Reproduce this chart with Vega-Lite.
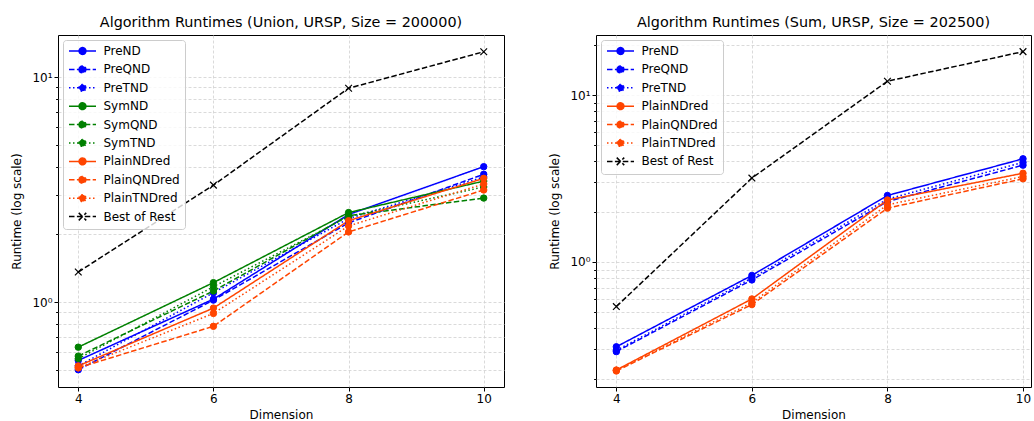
{
  "$schema": "https://vega.github.io/schema/vega-lite/v6.json",
  "padding": {"left": 10, "top": 14, "right": 0, "bottom": 0},
  "config": {
    "font": "DejaVu Sans",
    "view": {"stroke": "#000000", "strokeWidth": 1},
    "title": {"fontSize": 14.4, "fontWeight": "normal", "color": "#000000", "offset": 5, "font": "DejaVu Sans"},
    "axis": {
      "labelFont": "DejaVu Sans", "labelFontSize": 12, "labelColor": "#000000",
      "titleFont": "DejaVu Sans", "titleFontSize": 12, "titleFontWeight": "normal", "titleColor": "#000000",
      "domain": false, "tickColor": "#000000", "tickSize": 4, "labelPadding": 2,
      "grid": true, "gridColor": "#d0d0d0", "gridDash": [3, 2], "gridWidth": 0.8
    },
    "axisY": {"titlePadding": 8},
    "axisX": {"titlePadding": 5},
    "legend": {
      "orient": "top-left", "offset": 5, "padding": 5, "rowPadding": 4.4, "labelOffset": 15, "symbolOffset": 8.5,
      "symbolSize": 100, "labelFontSize": 12, "labelFont": "DejaVu Sans", "labelColor": "#000000",
      "strokeColor": "#cccccc", "fillColor": "rgba(255,255,255,0.8)", "cornerRadius": 3,
      "symbolStrokeWidth": 1.5, "symbolOpacity": 1, "labelLimit": 200
    }
  },
  "datasets": {
    "union": [
      {"series": "PreND", "dim": 4, "runtime": 0.55},
      {"series": "PreND", "dim": 6, "runtime": 1.03},
      {"series": "PreND", "dim": 8, "runtime": 2.45},
      {"series": "PreND", "dim": 10, "runtime": 4.0},
      {"series": "PreQND", "dim": 4, "runtime": 0.5},
      {"series": "PreQND", "dim": 6, "runtime": 1.02},
      {"series": "PreQND", "dim": 8, "runtime": 2.25},
      {"series": "PreQND", "dim": 10, "runtime": 3.7},
      {"series": "PreTND", "dim": 4, "runtime": 0.52},
      {"series": "PreTND", "dim": 6, "runtime": 1.1},
      {"series": "PreTND", "dim": 8, "runtime": 2.35},
      {"series": "PreTND", "dim": 10, "runtime": 3.6},
      {"series": "SymND", "dim": 4, "runtime": 0.63},
      {"series": "SymND", "dim": 6, "runtime": 1.22},
      {"series": "SymND", "dim": 8, "runtime": 2.5},
      {"series": "SymND", "dim": 10, "runtime": 3.45},
      {"series": "SymQND", "dim": 4, "runtime": 0.575},
      {"series": "SymQND", "dim": 6, "runtime": 1.12},
      {"series": "SymQND", "dim": 8, "runtime": 2.42},
      {"series": "SymQND", "dim": 10, "runtime": 2.9},
      {"series": "SymTND", "dim": 4, "runtime": 0.56},
      {"series": "SymTND", "dim": 6, "runtime": 1.17},
      {"series": "SymTND", "dim": 8, "runtime": 2.4},
      {"series": "SymTND", "dim": 10, "runtime": 3.25},
      {"series": "PlainNDred", "dim": 4, "runtime": 0.52},
      {"series": "PlainNDred", "dim": 6, "runtime": 0.94},
      {"series": "PlainNDred", "dim": 8, "runtime": 2.3},
      {"series": "PlainNDred", "dim": 10, "runtime": 3.55},
      {"series": "PlainQNDred", "dim": 4, "runtime": 0.51},
      {"series": "PlainQNDred", "dim": 6, "runtime": 0.78},
      {"series": "PlainQNDred", "dim": 8, "runtime": 2.05},
      {"series": "PlainQNDred", "dim": 10, "runtime": 3.15},
      {"series": "PlainTNDred", "dim": 4, "runtime": 0.51},
      {"series": "PlainTNDred", "dim": 6, "runtime": 0.89},
      {"series": "PlainTNDred", "dim": 8, "runtime": 2.18},
      {"series": "PlainTNDred", "dim": 10, "runtime": 3.35},
      {"series": "Best of Rest", "dim": 4, "runtime": 1.36},
      {"series": "Best of Rest", "dim": 6, "runtime": 3.31},
      {"series": "Best of Rest", "dim": 8, "runtime": 8.93},
      {"series": "Best of Rest", "dim": 10, "runtime": 12.97}
    ],
    "sum": [
      {"series": "PreND", "dim": 4, "runtime": 0.31},
      {"series": "PreND", "dim": 6, "runtime": 0.83},
      {"series": "PreND", "dim": 8, "runtime": 2.5},
      {"series": "PreND", "dim": 10, "runtime": 4.15},
      {"series": "PreQND", "dim": 4, "runtime": 0.29},
      {"series": "PreQND", "dim": 6, "runtime": 0.78},
      {"series": "PreQND", "dim": 8, "runtime": 2.3},
      {"series": "PreQND", "dim": 10, "runtime": 3.8},
      {"series": "PreTND", "dim": 4, "runtime": 0.295},
      {"series": "PreTND", "dim": 6, "runtime": 0.8},
      {"series": "PreTND", "dim": 8, "runtime": 2.38},
      {"series": "PreTND", "dim": 10, "runtime": 3.95},
      {"series": "PlainNDred", "dim": 4, "runtime": 0.225},
      {"series": "PlainNDred", "dim": 6, "runtime": 0.6},
      {"series": "PlainNDred", "dim": 8, "runtime": 2.35},
      {"series": "PlainNDred", "dim": 10, "runtime": 3.4},
      {"series": "PlainQNDred", "dim": 4, "runtime": 0.222},
      {"series": "PlainQNDred", "dim": 6, "runtime": 0.555},
      {"series": "PlainQNDred", "dim": 8, "runtime": 2.1},
      {"series": "PlainQNDred", "dim": 10, "runtime": 3.15},
      {"series": "PlainTNDred", "dim": 4, "runtime": 0.224},
      {"series": "PlainTNDred", "dim": 6, "runtime": 0.57},
      {"series": "PlainTNDred", "dim": 8, "runtime": 2.2},
      {"series": "PlainTNDred", "dim": 10, "runtime": 3.25},
      {"series": "Best of Rest", "dim": 4, "runtime": 0.54},
      {"series": "Best of Rest", "dim": 6, "runtime": 3.18},
      {"series": "Best of Rest", "dim": 8, "runtime": 12.1},
      {"series": "Best of Rest", "dim": 10, "runtime": 18.2}
    ]
  },
  "spacing": 43,
  "resolve": {
    "scale": {"color": "independent", "strokeDash": "independent", "stroke": "independent", "x": "independent", "y": "independent"},
    "legend": {"color": "independent"}
  },
  "hconcat": [
    {
      "title": "Algorithm Runtimes (Union, URSP, Size = 200000)",
      "width": 446,
      "height": 352,
      "data": {"name": "union"},
      "encoding": {
        "x": {"field": "dim", "type": "quantitative", "scale": {"domain": [3.7, 10.3], "nice": false, "zero": false},
              "axis": {"values": [4, 6, 8, 10], "format": "d", "title": "Dimension"}},
        "y": {"field": "runtime", "type": "quantitative", "scale": {"type": "log", "domain": [0.419, 15.4], "nice": false},
              "axis": {"values": [0.5, 0.6, 0.7, 0.8, 0.9, 1, 2, 3, 4, 5, 6, 7, 8, 9, 10],
                       "labelExpr": "datum.value == 1 ? '10⁰' : datum.value == 10 ? '10¹' : ''",
                       "tickSize": {"condition": {"test": "datum.value == 1 || datum.value == 10", "value": 4}, "value": 2.4},
                       "title": "Runtime (log scale)"}},
        "color": {"field": "series", "type": "nominal",
          "scale": {"domain": ["PreND", "PreQND", "PreTND", "SymND", "SymQND", "SymTND", "PlainNDred", "PlainQNDred", "PlainTNDred", "Best of Rest"],
                    "range": ["blue", "blue", "blue", "green", "green", "green", "#ff4500", "#ff4500", "#ff4500", "black"]},
          "legend": {"title": null,
            "encode": {"symbols": {"update": {
              "shape": {"signal": "datum.value === 'Best of Rest' ? 'M-2.7,0L2.7,0M-0.75,-0.75L0.75,0.75M-0.75,0.75L0.75,-0.75' : 'M-2.7,0L2.7,0M-0.68,0A0.68,0.68 0 1 1 0.68,0A0.68,0.68 0 1 1 -0.68,0Z'"},
              "fill": {"signal": "datum.value === 'Best of Rest' ? 'black' : indexof(datum.value, 'Pre') === 0 ? 'blue' : indexof(datum.value, 'Sym') === 0 ? 'green' : '#ff4500'"},
              "stroke": {"signal": "datum.value === 'Best of Rest' ? 'black' : indexof(datum.value, 'Pre') === 0 ? 'blue' : indexof(datum.value, 'Sym') === 0 ? 'green' : '#ff4500'"},
              "strokeDash": {"signal": "(indexof(datum.value, 'QND') >= 0 || datum.value === 'Best of Rest') ? [5.5, 2.4] : indexof(datum.value, 'TND') >= 0 ? [1.5, 2.5] : [1, 0]"},
              "strokeWidth": {"value": 1.5},
              "opacity": {"value": 1}
            }}}}
        }
      },
      "layer": [
        {"mark": {"type": "line", "strokeWidth": 1.5},
         "encoding": {"strokeDash": {"field": "series", "type": "nominal", "legend": null,
           "scale": {"domain": ["PreND", "PreQND", "PreTND", "SymND", "SymQND", "SymTND", "PlainNDred", "PlainQNDred", "PlainTNDred", "Best of Rest"],
                     "range": [[1, 0], [5.5, 2.4], [1.5, 2.5], [1, 0], [5.5, 2.4], [1.5, 2.5], [1, 0], [5.5, 2.4], [1.5, 2.5], [5.5, 2.4]]}}}},
        {"transform": [{"filter": "datum.series !== 'Best of Rest'"}],
         "mark": {"type": "point", "shape": "circle", "filled": true, "size": 41, "opacity": 1, "strokeWidth": 1},
         "encoding": {
           "stroke": {"field": "series", "type": "nominal", "legend": null,
             "scale": {"domain": ["PreND", "PreQND", "PreTND", "SymND", "SymQND", "SymTND", "PlainNDred", "PlainQNDred", "PlainTNDred", "Best of Rest"],
                       "range": ["blue", "blue", "blue", "green", "green", "green", "#ff4500", "#ff4500", "#ff4500", "black"]}}
         }},
        {"transform": [{"filter": "datum.series === 'Best of Rest'"}],
         "mark": {"type": "point", "shape": "M-1,-1L1,1M-1,1L1,-1", "filled": false, "size": 45, "opacity": 1, "strokeWidth": 1.2}
        }
      ]
    },
    {
      "title": "Algorithm Runtimes (Sum, URSP, Size = 202500)",
      "width": 435,
      "height": 352,
      "data": {"name": "sum"},
      "encoding": {
        "x": {"field": "dim", "type": "quantitative", "scale": {"domain": [3.7, 10.118], "nice": false, "zero": false},
              "axis": {"values": [4, 6, 8, 10], "format": "d", "title": "Dimension"}},
        "y": {"field": "runtime", "type": "quantitative", "scale": {"type": "log", "domain": [0.178, 22.9], "nice": false},
              "axis": {"values": [0.2, 0.3, 0.4, 0.5, 0.6, 0.7, 0.8, 0.9, 1, 2, 3, 4, 5, 6, 7, 8, 9, 10, 20],
                       "labelExpr": "datum.value == 1 ? '10⁰' : datum.value == 10 ? '10¹' : ''",
                       "tickSize": {"condition": {"test": "datum.value == 1 || datum.value == 10", "value": 4}, "value": 2.4},
                       "title": "Runtime (log scale)"}},
        "color": {"field": "series", "type": "nominal",
          "scale": {"domain": ["PreND", "PreQND", "PreTND", "PlainNDred", "PlainQNDred", "PlainTNDred", "Best of Rest"],
                    "range": ["blue", "blue", "blue", "#ff4500", "#ff4500", "#ff4500", "black"]},
          "legend": {"title": null,
            "encode": {"symbols": {"update": {
              "shape": {"signal": "datum.value === 'Best of Rest' ? 'M-2.7,0L2.7,0M-0.75,-0.75L0.75,0.75M-0.75,0.75L0.75,-0.75' : 'M-2.7,0L2.7,0M-0.68,0A0.68,0.68 0 1 1 0.68,0A0.68,0.68 0 1 1 -0.68,0Z'"},
              "fill": {"signal": "datum.value === 'Best of Rest' ? 'black' : indexof(datum.value, 'Pre') === 0 ? 'blue' : '#ff4500'"},
              "stroke": {"signal": "datum.value === 'Best of Rest' ? 'black' : indexof(datum.value, 'Pre') === 0 ? 'blue' : '#ff4500'"},
              "strokeDash": {"signal": "(indexof(datum.value, 'QND') >= 0 || datum.value === 'Best of Rest') ? [5.5, 2.4] : indexof(datum.value, 'TND') >= 0 ? [1.5, 2.5] : [1, 0]"},
              "strokeWidth": {"value": 1.5},
              "opacity": {"value": 1}
            }}}}
        }
      },
      "layer": [
        {"mark": {"type": "line", "strokeWidth": 1.5},
         "encoding": {"strokeDash": {"field": "series", "type": "nominal", "legend": null,
           "scale": {"domain": ["PreND", "PreQND", "PreTND", "PlainNDred", "PlainQNDred", "PlainTNDred", "Best of Rest"],
                     "range": [[1, 0], [5.5, 2.4], [1.5, 2.5], [1, 0], [5.5, 2.4], [1.5, 2.5], [5.5, 2.4]]}}}},
        {"transform": [{"filter": "datum.series !== 'Best of Rest'"}],
         "mark": {"type": "point", "shape": "circle", "filled": true, "size": 41, "opacity": 1, "strokeWidth": 1},
         "encoding": {
           "stroke": {"field": "series", "type": "nominal", "legend": null,
             "scale": {"domain": ["PreND", "PreQND", "PreTND", "PlainNDred", "PlainQNDred", "PlainTNDred", "Best of Rest"],
                       "range": ["blue", "blue", "blue", "#ff4500", "#ff4500", "#ff4500", "black"]}}
         }},
        {"transform": [{"filter": "datum.series === 'Best of Rest'"}],
         "mark": {"type": "point", "shape": "M-1,-1L1,1M-1,1L1,-1", "filled": false, "size": 45, "opacity": 1, "strokeWidth": 1.2}
        }
      ]
    }
  ]
}
